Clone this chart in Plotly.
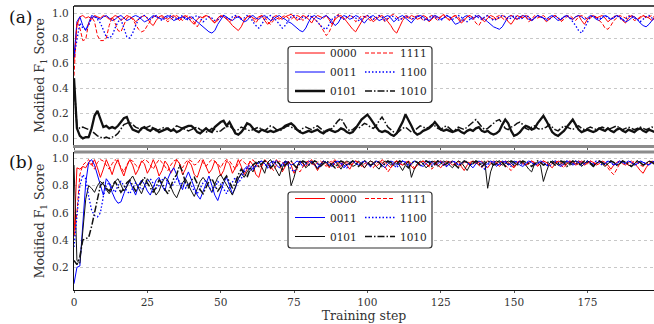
import plotly.graph_objects as go

# ---------------- data (values in hundredths) ----------------
NAMES = ["0000", "0011", "0101", "1111", "1100", "1010"]
X_TICKS = [0, 25, 50, 75, 100, 125, 150, 175]
Y_TICKS = [0.0, 0.2, 0.4, 0.6, 0.8, 1.0]
Y_TICK_TEXT = ["0.0", "0.2", "0.4", "0.6", "0.8", "1.0"]

A_0000 = [
    62, 90, 97, 98, 96, 97, 95, 98, 97, 96, 98, 97, 95, 96, 98, 97, 94, 96, 98, 97,
    96, 93, 95, 97, 98, 96, 92, 90, 94, 97, 98, 96, 95, 97, 98, 96, 94, 97, 98, 96,
    93, 91, 95, 97, 96, 98, 97, 94, 92, 96, 98, 97, 95, 93, 90, 88, 86, 89, 94, 97,
    98, 96, 95, 97, 98, 94, 91, 93, 97, 98, 96, 95, 97, 98, 99, 97, 94, 96, 98, 97,
    95, 92, 96, 98, 97, 96, 98, 94, 91, 95, 97, 98, 96, 93, 90, 87, 85, 89, 94, 97,
    98, 96, 93, 95, 97, 98, 96, 93, 90, 86, 84, 89, 94, 97, 96, 98, 97, 95, 96, 98,
    97, 93, 95, 98, 96, 97, 99, 96, 94, 97, 98, 95, 92, 94, 97, 98, 96, 97, 98, 95,
    93, 96, 98, 97, 95, 96, 98, 97, 93, 91, 95, 98, 97, 96, 98, 97, 94, 96, 98, 97,
    96, 93, 95, 97, 98, 96, 94, 97, 98, 96, 95, 97, 98, 94, 91, 95, 97, 98, 96, 97,
    98, 96, 93, 95, 97, 98, 97, 94, 92, 96, 98, 97, 95, 96, 98, 97, 96, 94, 97, 98,
]
A_1111 = [
    50, 93, 88, 78, 79, 92, 97, 93, 82, 78, 78, 80, 90, 97, 92, 86, 85, 91, 96, 97,
    95, 91, 87, 85, 86, 90, 94, 97, 98, 96, 97, 95, 93, 95, 97, 98, 96, 94, 97, 98,
    96, 92, 89, 93, 97, 98, 97, 95, 92, 94, 97, 98, 96, 93, 95, 97, 98, 96, 94, 97,
    97, 95, 92, 96, 98, 97, 93, 91, 94, 96, 95, 97, 98, 96, 95, 97, 98, 97, 94, 96,
    98, 97, 95, 93, 90, 86, 82, 85, 91, 96, 99, 97, 95, 96, 98, 97, 93, 95, 98, 97,
    96, 94, 95, 97, 98, 96, 93, 95, 98, 99, 97, 95, 96, 98, 97, 95, 96, 98, 97, 94,
    95, 97, 98, 96, 94, 97, 98, 96, 95, 97, 98, 97, 93, 95, 97, 98, 96, 92, 90, 94,
    97, 98, 96, 95, 97, 98, 96, 94, 97, 98, 97, 95, 96, 98, 97, 93, 95, 98, 96, 97,
    98, 96, 95, 97, 98, 96, 93, 95, 97, 98, 96, 94, 97, 98, 97, 95, 96, 98, 97, 94,
    92, 88, 87, 90, 94, 96, 98, 97, 96, 98, 97, 94, 95, 97, 98, 96, 97, 98, 96, 97,
]
A_0011 = [
    65, 93, 97, 90, 86, 92, 98, 97, 96, 95, 97, 98, 96, 94, 95, 97, 98, 96, 94, 95,
    97, 98, 97, 95, 93, 94, 96, 98, 97, 96, 95, 97, 98, 96, 94, 95, 96, 97, 95, 96,
    97, 95, 93, 91, 89, 87, 85, 84, 86, 91, 95, 98, 97, 95, 94, 96, 97, 95, 93, 94,
    97, 98, 96, 95, 97, 98, 96, 94, 95, 97, 98, 96, 95, 93, 92, 90, 88, 86, 85, 88,
    93, 97, 98, 96, 95, 97, 98, 96, 93, 90, 92, 96, 98, 97, 95, 96, 98, 97, 94, 92,
    95, 97, 98, 96, 94, 95, 97, 98, 96, 93, 95, 97, 98, 96, 94, 92, 95, 97, 98, 97,
    95, 94, 96, 98, 97, 95, 96, 98, 97, 94, 91, 92, 94, 97, 98, 96, 95, 97, 98, 96,
    95, 93, 91, 89, 88, 87, 89, 93, 97, 98, 96, 95, 97, 98, 97, 95, 94, 96, 98, 97,
    96, 95, 97, 98, 96, 94, 95, 97, 98, 96, 95, 97, 98, 97, 95, 96, 98, 97, 95, 94,
    96, 98, 97, 95, 96, 98, 97, 95, 93, 94, 96, 97, 95, 92, 90, 89, 91, 94, 96, 97,
]
A_1100 = [
    65, 80, 92, 88, 87, 90, 96, 97, 95, 92, 86, 81, 80, 82, 88, 93, 95, 88, 81, 80,
    84, 90, 95, 97, 98, 96, 95, 97, 98, 96, 94, 96, 97, 98, 96, 95, 97, 98, 96, 94,
    96, 97, 98, 96, 93, 95, 97, 96, 94, 95, 97, 98, 96, 95, 97, 98, 97, 95, 96, 98,
    97, 93, 90, 88, 91, 95, 97, 98, 96, 94, 91, 88, 90, 94, 97, 98, 96, 95, 97, 96,
    98, 97, 95, 93, 90, 88, 87, 91, 95, 97, 98, 96, 95, 97, 98, 97, 96, 94, 95, 97,
    98, 97, 95, 96, 98, 97, 94, 96, 98, 97, 95, 94, 96, 98, 97, 95, 96, 98, 97, 95,
    94, 96, 98, 97, 95, 94, 96, 98, 97, 95, 96, 98, 97, 94, 93, 95, 97, 98, 96, 95,
    97, 98, 96, 94, 95, 97, 98, 97, 95, 96, 98, 97, 95, 96, 98, 97, 94, 96, 98, 97,
    96, 94, 95, 97, 98, 96, 95, 97, 98, 96, 93, 90, 86, 84, 88, 93, 97, 98, 96, 95,
    97, 98, 96, 95, 97, 98, 96, 94, 95, 97, 98, 96, 95, 93, 95, 97, 98, 96, 95, 97,
]
A_0101 = [
    48, 8, 2, 0, 1, 1, 8, 18, 22, 15, 9, 10, 8, 9, 8, 10, 13, 16, 17, 11,
    7, 6, 5, 8, 9, 7, 6, 8, 7, 5, 6, 7, 8, 6, 7, 5, 6, 8, 9, 10,
    10, 8, 5, 4, 6, 8, 6, 5, 9, 11, 13, 14, 10, 13, 8, 4, 3, 5, 8, 12,
    11, 8, 6, 5, 7, 6, 5, 6, 5, 6, 7, 8, 10, 11, 12, 10, 7, 5, 4, 5,
    6, 5, 6, 7, 5, 4, 6, 7, 6, 5, 6, 8, 7, 5, 4, 5, 8, 12, 15, 17,
    19, 16, 12, 9, 6, 5, 6, 5, 3, 2, 4, 8, 13, 19, 15, 10, 5, 3, 4, 6,
    7, 8, 10, 13, 10, 7, 6, 7, 6, 5, 6, 7, 5, 4, 6, 7, 6, 8, 9, 6,
    5, 6, 4, 3, 4, 6, 11, 15, 12, 6, 2, 3, 5, 8, 10, 9, 7, 8, 12, 15,
    18, 14, 9, 5, 3, 2, 4, 6, 9, 12, 15, 11, 7, 5, 6, 7, 6, 5, 6, 8,
    7, 6, 8, 6, 5, 7, 8, 6, 5, 7, 6, 5, 7, 8, 6, 5, 7, 6, 5, 6,
]
A_1010 = [
    45, 10, 8, 9, 8, 7, 6, 4, 2, 1, 0, 1, 0, 1, 2, 4, 8, 11, 12, 13,
    11, 9, 8, 7, 8, 9, 10, 8, 6, 7, 8, 9, 7, 6, 8, 10, 9, 8, 7, 6,
    7, 8, 9, 7, 6, 5, 6, 8, 7, 5, 6, 8, 9, 10, 8, 6, 7, 9, 8, 7,
    6, 7, 8, 9, 7, 6, 8, 10, 9, 7, 6, 7, 9, 10, 9, 8, 7, 6, 8, 9,
    8, 7, 9, 10, 8, 6, 5, 7, 8, 11, 14, 16, 12, 8, 6, 7, 9, 8, 10, 12,
    11, 9, 8, 10, 14, 17, 13, 9, 7, 5, 4, 6, 8, 9, 7, 5, 6, 8, 10, 9,
    8, 9, 11, 10, 8, 7, 9, 10, 8, 6, 7, 9, 8, 7, 9, 11, 13, 15, 12, 9,
    7, 8, 10, 12, 14, 15, 11, 8, 7, 9, 10, 12, 13, 11, 8, 7, 9, 10, 8, 7,
    8, 9, 11, 9, 7, 6, 8, 10, 9, 8, 7, 9, 10, 8, 7, 8, 9, 8, 7, 8,
    9, 8, 7, 8, 9, 10, 8, 7, 8, 9, 8, 7, 8, 9, 8, 7, 8, 9, 8, 7,
]

B_0000 = [
    43, 93, 92, 94, 93, 97, 95, 99, 93, 86, 92, 99, 94, 88, 95, 99, 92, 87, 94, 99,
    95, 88, 92, 98, 96, 89, 93, 99, 94, 87, 91, 98, 95, 89, 93, 99, 96, 88, 92, 98,
    95, 88, 86, 93, 99, 94, 89, 92, 98, 95, 87, 91, 98, 96, 89, 93, 99, 94, 88, 92,
    98, 95, 88, 86, 94, 99, 97, 92, 95, 99, 96, 90, 94, 98, 95, 89, 93, 98, 96, 94,
    97, 99, 95, 91, 95, 98, 96, 93, 97, 99, 96, 94, 97, 95, 92, 96, 98, 97, 95, 93,
    96, 98, 97, 94, 96, 99, 97, 95, 93, 96, 98, 97, 95, 96, 98, 94, 92, 95, 97, 98,
    96, 94, 97, 98, 95, 93, 96, 98, 97, 95, 96, 98, 94, 91, 95, 97, 98, 96, 97, 98,
    95, 93, 96, 98, 97, 94, 96, 98, 97, 95, 93, 96, 98, 97, 95, 96, 98, 97, 94, 96,
    98, 97, 95, 93, 96, 98, 97, 95, 96, 98, 97, 95, 96, 98, 97, 96, 98, 97, 95, 96,
    98, 97, 95, 92, 95, 97, 98, 96, 95, 97, 98, 96, 94, 91, 89, 93, 96, 98, 97, 96,
]
B_1111 = [
    43, 60, 88, 95, 97, 99, 96, 92, 97, 99, 98, 95, 92, 96, 99, 97, 93, 90, 95, 99,
    98, 95, 93, 97, 99, 98, 95, 92, 96, 99, 97, 94, 91, 95, 98, 99, 96, 93, 97, 99,
    98, 95, 96, 99, 97, 94, 97, 99, 98, 96, 93, 97, 99, 98, 95, 92, 96, 99, 97, 95,
    97, 99, 96, 93, 95, 98, 97, 94, 91, 95, 98, 97, 95, 96, 98, 95, 92, 90, 94, 97,
    98, 96, 95, 97, 98, 96, 94, 97, 98, 95, 93, 96, 98, 97, 95, 96, 98, 97, 94, 96,
    97, 95, 93, 96, 98, 97, 94, 90, 93, 97, 98, 96, 95, 97, 98, 96, 93, 95, 97, 98,
    96, 94, 92, 95, 97, 98, 96, 95, 97, 98, 96, 94, 95, 97, 98, 96, 97, 98, 95, 93,
    96, 98, 97, 95, 96, 98, 97, 95, 93, 91, 94, 97, 98, 96, 95, 97, 98, 96, 95, 97,
    98, 97, 95, 96, 98, 97, 95, 93, 96, 98, 97, 96, 98, 97, 95, 96, 98, 97, 96, 98,
    97, 95, 93, 90, 88, 92, 96, 98, 97, 95, 96, 98, 97, 95, 94, 96, 98, 97, 96, 95,
]
B_0011 = [
    8, 20, 21, 55, 82, 97, 99, 95, 88, 80, 73, 85, 82, 75, 70, 67, 68, 74, 80, 83,
    78, 73, 80, 84, 81, 76, 73, 78, 84, 86, 80, 76, 85, 90, 93, 88, 81, 77, 85, 90,
    84, 78, 73, 70, 76, 82, 87, 80, 73, 69, 75, 82, 86, 80, 74, 78, 85, 88, 92, 94,
    91, 93, 95, 97, 98, 96, 94, 97, 98, 95, 93, 96, 98, 97, 95, 96, 98, 97, 94, 96,
    98, 97, 95, 93, 96, 98, 97, 95, 94, 97, 98, 96, 93, 95, 97, 98, 96, 95, 97, 98,
    96, 94, 96, 98, 97, 95, 93, 96, 98, 97, 95, 96, 98, 97, 94, 96, 98, 97, 95, 94,
    96, 98, 97, 95, 96, 98, 97, 94, 96, 98, 97, 95, 96, 98, 97, 95, 93, 96, 98, 97,
    95, 96, 98, 97, 94, 96, 98, 97, 95, 96, 98, 97, 95, 94, 96, 98, 97, 95, 96, 98,
    97, 95, 96, 98, 97, 95, 94, 96, 98, 97, 95, 96, 98, 97, 96, 98, 97, 95, 96, 98,
    97, 96, 98, 97, 95, 96, 98, 97, 96, 98, 97, 95, 96, 98, 97, 96, 95, 97, 98, 96,
]
B_1100 = [
    35, 55, 80, 88, 85, 72, 62, 58, 57, 60, 72, 80, 82, 78, 75, 80, 83, 80, 76, 74,
    78, 82, 80, 77, 79, 83, 85, 81, 78, 80, 84, 86, 82, 79, 81, 85, 83, 80, 78, 82,
    80, 76, 74, 78, 82, 84, 79, 75, 78, 83, 81, 77, 74, 79, 83, 86, 82, 85, 90, 93,
    95, 92, 94, 97, 98, 96, 93, 95, 97, 98, 96, 94, 97, 95, 92, 90, 94, 97, 98, 96,
    95, 97, 98, 96, 94, 97, 98, 96, 95, 97, 98, 97, 95, 93, 96, 98, 97, 95, 96, 98,
    97, 94, 96, 98, 97, 95, 96, 98, 97, 95, 93, 96, 98, 97, 95, 96, 98, 97, 94, 96,
    98, 97, 95, 96, 98, 97, 95, 94, 96, 98, 97, 95, 96, 98, 97, 95, 96, 98, 97, 94,
    92, 95, 97, 98, 96, 95, 97, 98, 96, 94, 96, 98, 97, 95, 96, 98, 97, 95, 96, 98,
    97, 95, 94, 96, 98, 97, 95, 96, 98, 97, 96, 98, 97, 95, 96, 98, 97, 96, 98, 97,
    95, 96, 98, 97, 95, 96, 98, 97, 96, 98, 97, 95, 96, 98, 97, 96, 95, 97, 98, 97,
]
B_0101 = [
    95, 25, 23, 45, 70, 80, 78, 75, 80, 83, 81, 77, 74, 78, 83, 85, 80, 76, 79, 84,
    87, 82, 78, 74, 80, 85, 82, 77, 73, 76, 82, 86, 84, 79, 74, 71, 76, 82, 85, 80,
    76, 72, 77, 83, 86, 83, 79, 75, 81, 86, 88, 84, 80, 76, 73, 79, 85, 89, 86, 90,
    93, 90, 95, 98, 94, 89, 97, 99, 95, 91, 87, 93, 98, 96, 80, 86, 94, 98, 97, 93,
    95, 98, 96, 92, 95, 98, 97, 94, 96, 98, 95, 92, 96, 98, 97, 94, 95, 98, 96, 93,
    96, 98, 97, 94, 92, 96, 98, 97, 95, 96, 98, 94, 91, 95, 98, 86, 92, 96, 98, 96,
    93, 95, 98, 97, 94, 96, 98, 97, 95, 93, 96, 98, 97, 94, 91, 95, 98, 97, 95, 96,
    98, 78, 90, 96, 98, 97, 95, 96, 98, 97, 94, 96, 98, 97, 95, 92, 90, 96, 97, 95,
    83, 90, 96, 98, 97, 95, 96, 98, 97, 95, 96, 98, 97, 94, 96, 98, 97, 95, 96, 98,
    96, 94, 96, 98, 97, 95, 96, 98, 97, 95, 94, 96, 98, 97, 95, 96, 98, 97, 95, 96,
]
B_1010 = [
    25, 22, 28, 40, 41, 42, 50, 60, 70, 80, 82, 78, 76, 80, 83, 79, 75, 78, 82, 84,
    80, 76, 79, 83, 86, 82, 78, 75, 79, 84, 82, 77, 74, 80, 85, 88, 95, 90, 82, 78,
    84, 86, 81, 77, 74, 78, 83, 85, 80, 76, 79, 84, 87, 83, 78, 82, 88, 92, 89, 86,
    92, 95, 97, 94, 96, 98, 97, 93, 95, 98, 96, 92, 95, 97, 98, 95, 93, 96, 98, 97,
    95, 96, 98, 97, 94, 96, 98, 97, 95, 93, 96, 98, 97, 95, 96, 98, 97, 94, 96, 98,
    97, 95, 96, 98, 97, 94, 96, 98, 97, 95, 96, 98, 97, 95, 93, 96, 98, 97, 95, 96,
    98, 97, 94, 96, 98, 97, 95, 96, 98, 97, 95, 93, 96, 98, 97, 95, 96, 98, 97, 94,
    96, 98, 97, 95, 96, 98, 97, 94, 96, 98, 97, 95, 96, 98, 97, 96, 94, 96, 98, 97,
    95, 96, 98, 97, 95, 96, 98, 97, 94, 96, 98, 97, 95, 96, 98, 97, 96, 94, 96, 98,
    97, 95, 96, 98, 97, 95, 96, 98, 97, 96, 94, 96, 98, 97, 95, 96, 98, 97, 96, 95,
]

PANEL_A = [A_0000, A_0011, A_0101, A_1111, A_1100, A_1010]
PANEL_B = [B_0000, B_0011, B_0101, B_1111, B_1100, B_1010]

# ---------------- styling ----------------
FONT = "DejaVu Serif"
TXT = "#333333"
W, H = 654, 324
L, R, T, B = 74, 654, 6, 290


def pxx(p):
    return (p - L) / (R - L)


def pxy(p):
    return (B - p) / (B - T)


STYLE = {
    "0000": dict(color="#ff0000", dash="solid"),
    "0011": dict(color="#0000ff", dash="solid"),
    "0101": dict(color="#111111", dash="solid"),
    "1111": dict(color="#ff0000", dash="4px,2px"),
    "1100": dict(color="#0000ff", dash="1.5px,2px"),
    "1010": dict(color="#111111", dash="7px,2px,1.5px,2px"),
}
WIDTH_A = {"0000": 1.0, "0011": 1.0, "0101": 2.3, "1111": 1.0, "1100": 1.3, "1010": 1.5}
WIDTH_B = {"0000": 1.0, "0011": 1.0, "0101": 1.0, "1111": 1.0, "1100": 1.3, "1010": 1.5}

fig = go.Figure()
for panel, data, widths, axes, legs in [
    ("a", PANEL_A, WIDTH_A, ("x", "y"), ("legend", "legend2")),
    ("b", PANEL_B, WIDTH_B, ("x2", "y2"), ("legend3", "legend4")),
]:
    for i, (name, vals) in enumerate(zip(NAMES, data)):
        fig.add_trace(go.Scatter(
            x=list(range(len(vals))), y=[v / 100 for v in vals],
            mode="lines", name=name,
            line=dict(color=STYLE[name]["color"], dash=STYLE[name]["dash"], width=widths[name]),
            xaxis=axes[0], yaxis=axes[1],
            legend=legs[0] if i < 3 else legs[1],
        ))

dom_a = [pxy(145), 1.0]
dom_b = [0.0, pxy(152)]

xcommon = dict(range=[0, 197.7], tickvals=X_TICKS, showgrid=False, zeroline=False,
               ticks="outside", ticklen=2, tickcolor="#555555", automargin=False,
               tickfont=dict(family=FONT, size=10.5, color=TXT))
ycommon = dict(tickvals=Y_TICKS, ticktext=Y_TICK_TEXT, showgrid=True,
               gridcolor="#c8c8c8", griddash="dot", gridwidth=1, zeroline=False,
               showline=True, linecolor="#111111", linewidth=1.3, ticks="",
               automargin=False, ticklabelstandoff=2,
               tickfont=dict(family=FONT, size=10.5, color=TXT),
               title=dict(text="Modified F<sub>1</sub> Score", standoff=4,
                          font=dict(family=FONT, size=12.5, color=TXT)))

leg_common = dict(xanchor="left", yanchor="top", bgcolor="rgba(0,0,0,0)",
                  borderwidth=0, font=dict(family=FONT, size=10.5, color="#222222"),
                  tracegroupgap=0, itemwidth=30)

fig.update_layout(
    width=W, height=H, margin=dict(l=L, r=W - R, t=T, b=H - B, autoexpand=False),
    paper_bgcolor="white", plot_bgcolor="white", hovermode=False,
    xaxis=dict(domain=[0, 1], anchor="y", showticklabels=False, showline=True,
               linecolor="#8c8c8c", linewidth=3, **xcommon),
    yaxis=dict(domain=dom_a, anchor="x", range=[-0.053, 1.056], **ycommon),
    xaxis2=dict(domain=[0, 1], anchor="y2", showline=True, linecolor="#111111", linewidth=1.3,
                title=dict(text="Training step", standoff=3,
                           font=dict(family=FONT, size=12.5, color=TXT)),
                **xcommon),
    yaxis2=dict(domain=dom_b, anchor="x2", range=[0.034, 1.046], **ycommon),
    legend=dict(x=pxx(290), y=pxy(38.5), **leg_common),
    legend2=dict(x=pxx(360), y=pxy(38.5), **leg_common),
    legend3=dict(x=pxx(290), y=pxy(184), **leg_common),
    legend4=dict(x=pxx(360), y=pxy(184), **leg_common),
    showlegend=True,
)


def rounded_box(x0, y0, x1, y1, r=3):
    # pixel corners -> paper path with rounded corners
    def P(px, py):
        return f"{pxx(px):.5f},{pxy(py):.5f}"
    return (f"M {P(x0 + r, y0)} L {P(x1 - r, y0)} Q {P(x1, y0)} {P(x1, y0 + r)} "
            f"L {P(x1, y1 - r)} Q {P(x1, y1)} {P(x1 - r, y1)} L {P(x0 + r, y1)} "
            f"Q {P(x0, y1)} {P(x0, y1 - r)} L {P(x0, y0 + r)} Q {P(x0, y0)} {P(x0 + r, y0)} Z")


shapes = [
    dict(type="line", xref="paper", yref="paper", x0=0, x1=1, y0=1, y1=1,
         line=dict(color="#111111", width=1.5), layer="above"),
    dict(type="line", xref="paper", yref="paper", x0=0, x1=1, y0=dom_b[1], y1=dom_b[1],
         line=dict(color="#8c8c8c", width=3), layer="above"),
    dict(type="path", xref="paper", yref="paper", path=rounded_box(288, 46.5, 432, 102.5),
         fillcolor="rgba(255,255,255,0.92)", line=dict(color="#333333", width=1.2), layer="above"),
    dict(type="path", xref="paper", yref="paper", path=rounded_box(288, 192, 432, 248),
         fillcolor="rgba(255,255,255,0.92)", line=dict(color="#333333", width=1.2), layer="above"),
]
fig.update_layout(shapes=shapes)

fig.add_annotation(text="(a)", xref="paper", yref="paper", x=pxx(7), y=pxy(16.5),
                   xanchor="left", yanchor="middle", showarrow=False,
                   font=dict(family=FONT, size=17, color="#111111"))
fig.add_annotation(text="(b)", xref="paper", yref="paper", x=pxx(7), y=pxy(162),
                   xanchor="left", yanchor="middle", showarrow=False,
                   font=dict(family=FONT, size=17, color="#111111"))

fig.write_html("out.html", config={"displayModeBar": False, "staticPlot": False},
               post_script="document.body.style.margin='0';")
